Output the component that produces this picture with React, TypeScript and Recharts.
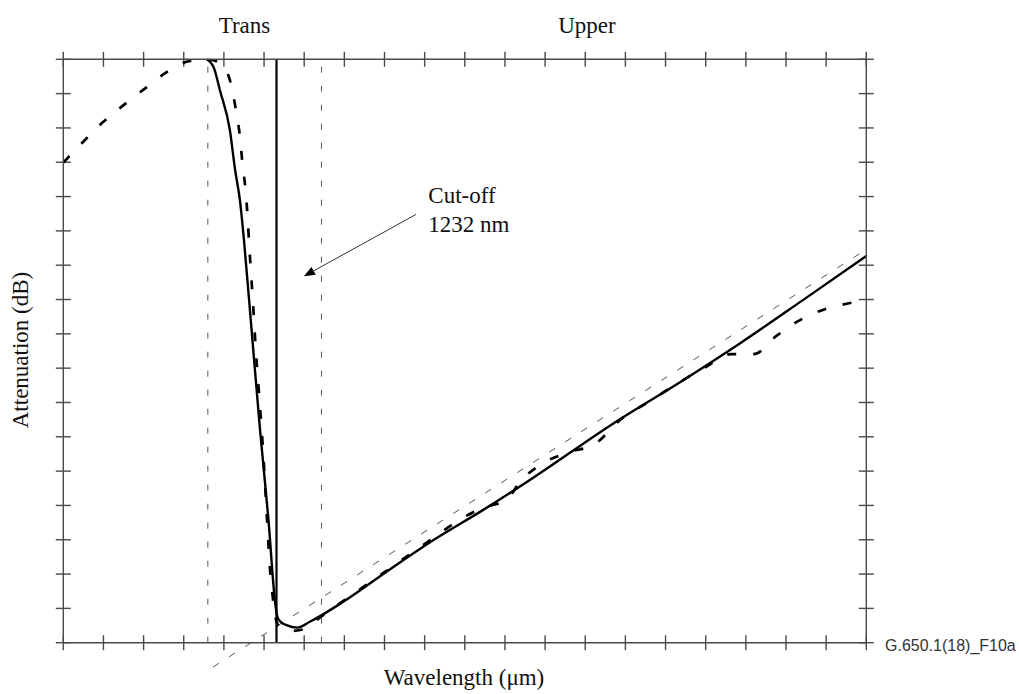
import { LineChart, Line, XAxis, YAxis, ReferenceLine } from "recharts";

// Wavelength in tick units (20 divisions), attenuation in tick units (17 divisions).
const xTicks = [0, 1, 2, 3, 4, 5, 6, 7, 8, 9, 10, 11, 12, 13, 14, 15, 16, 17, 18, 19, 20];
const yTicks = [0, 1, 2, 3, 4, 5, 6, 7, 8, 9, 10, 11, 12, 13, 14, 15, 16, 17];

// Solid measured curve
const solidX = [3.57, 3.75, 3.9, 4.15, 4.28, 4.4, 4.5, 4.69, 4.9, 5.11, 5.27, 5.33, 5.42, 5.56, 5.83, 6.14, 6.97, 8.14, 9.22, 10.46, 11.62, 13.7, 15.44, 16.85, 18.43, 20];
const solidY = [17, 16.75, 16.1, 14.93, 13.77, 12.89, 11.73, 9.11, 6.2, 3.58, 1.24, 0.76, 0.6, 0.51, 0.44, 0.61, 1.19, 2.14, 2.99, 3.87, 4.74, 6.39, 7.65, 8.72, 9.99, 11.27];

// Dashed measured curve
const dashX = [0, 0.54, 0.99, 1.54, 2.08, 2.61, 3.16, 3.65, 3.9, 4.15, 4.3, 4.4, 4.47, 4.54, 4.59, 4.63, 4.72, 4.8, 4.9, 4.99, 5.07, 5.15, 5.22, 5.3, 5.4, 5.65, 5.9, 6.48, 7.06, 8.14, 8.72, 9.26, 9.8, 10.42, 11.04, 11.37, 11.99, 12.62, 13.24, 13.86, 14.61, 15.36, 16.0, 16.63, 17.2, 17.73, 18.3, 18.9, 19.6, 20];
const dashY = [13.99, 14.65, 15.17, 15.7, 16.19, 16.65, 16.95, 16.98, 16.89, 16.39, 15.52, 14.74, 13.87, 13.19, 12.41, 11.59, 9.99, 8.43, 6.88, 5.32, 3.67, 2.12, 1.29, 0.66, 0.43, 0.34, 0.37, 0.81, 1.29, 2.17, 2.65, 3.09, 3.53, 3.92, 4.16, 4.68, 5.26, 5.56, 5.79, 6.48, 7.04, 7.6, 8.03, 8.41, 8.41, 8.91, 9.37, 9.69, 9.9, 9.99];

// Reference positions
const cutoffX = 5.31;
const transBounds = [3.6, 6.43];
const tangent = [
  { x: 3.73, y: -0.71 },
  { x: 20, y: 11.46 },
];
const arrow = [
  { x: 8.785, y: 12.48 },
  { x: 5.994, y: 10.68 },
];

const solid = solidX.map((x, i) => ({ x, y: solidY[i] }));
const dashed = dashX.map((x, i) => ({ x, y: dashY[i] }));

const X_MAX = xTicks[xTicks.length - 1];
const Y_MAX = yTicks[yTicks.length - 1];
// half tick length (~7.5px) expressed in each axis' units
const HX = 0.187;
const HY = 0.2185;

const AXIS = "#4a4a4a";
const SERIF = "'Liberation Serif', 'Times New Roman', serif";

const ArrowShape = (p: any) => {
  const { x1, y1, x2, y2 } = p;
  const dx = x2 - x1;
  const dy = y2 - y1;
  const len = Math.hypot(dx, dy) || 1;
  const ux = dx / len;
  const uy = dy / len;
  const bx = x2 - ux * 11;
  const by = y2 - uy * 11;
  const pts = `${x2},${y2} ${bx - uy * 4.5},${by + ux * 4.5} ${bx + uy * 4.5},${by - ux * 4.5}`;
  return (
    <g>
      <line x1={x1} y1={y1} x2={bx} y2={by} stroke="#333" strokeWidth={1} />
      <polygon points={pts} fill="#000" />
    </g>
  );
};

export default function App() {
  const axisLine = { stroke: AXIS, strokeWidth: 1.4 };
  const tickProps = { stroke: AXIS, strokeWidth: 1.4, ifOverflow: "visible" as const };
  return (
    <div style={{ position: "absolute", left: 0, top: 0, background: "#fff" }}>
      <LineChart
        width={1019}
        height={694}
        margin={{ top: 58.3, right: 151.7, bottom: 50.3, left: 62.3 }}
      >
        <XAxis
          dataKey="x"
          type="number"
          domain={[0, X_MAX]}
          ticks={xTicks}
          height={1}
          tick={false}
          tickLine={false}
          axisLine={axisLine}
        />
        <XAxis
          xAxisId="top"
          orientation="top"
          type="number"
          domain={[0, X_MAX]}
          allowDataOverflow
          height={1}
          tick={false}
          tickLine={false}
          axisLine={axisLine}
        />
        <YAxis
          type="number"
          domain={[0, Y_MAX]}
          ticks={yTicks}
          width={1}
          tick={false}
          tickLine={false}
          axisLine={axisLine}
        />
        <YAxis
          yAxisId="right"
          orientation="right"
          type="number"
          domain={[0, Y_MAX]}
          allowDataOverflow
          width={1}
          tick={false}
          tickLine={false}
          axisLine={axisLine}
        />

        {/* crossing tick marks on all four sides */}
        {xTicks.map((t) => (
          <ReferenceLine key={`b${t}`} segment={[{ x: t, y: -HY }, { x: t, y: HY }]} {...tickProps} />
        ))}
        {xTicks.map((t) => (
          <ReferenceLine key={`t${t}`} segment={[{ x: t, y: Y_MAX - HY }, { x: t, y: Y_MAX + HY }]} {...tickProps} />
        ))}
        {yTicks.map((t) => (
          <ReferenceLine key={`l${t}`} segment={[{ x: -HX, y: t }, { x: HX, y: t }]} {...tickProps} />
        ))}
        {yTicks.map((t) => (
          <ReferenceLine key={`r${t}`} segment={[{ x: X_MAX - HX, y: t }, { x: X_MAX + HX, y: t }]} {...tickProps} />
        ))}

        {transBounds.map((x) => (
          <ReferenceLine key={x} x={x} stroke="#555" strokeWidth={1} strokeDasharray="6 13" />
        ))}
        <ReferenceLine
          segment={tangent}
          ifOverflow="visible"
          stroke="#555"
          strokeWidth={1}
          strokeDasharray="7 12"
        />
        <ReferenceLine x={cutoffX} stroke="#000" strokeWidth={2.2} />

        <Line
          data={dashed}
          dataKey="y"
          type="monotone"
          stroke="#000"
          strokeWidth={2.7}
          strokeDasharray="9 17"
          dot={false}
          activeDot={false}
          isAnimationActive={false}
        />
        <Line
          data={solid}
          dataKey="y"
          type="monotone"
          stroke="#000"
          strokeWidth={2.4}
          dot={false}
          activeDot={false}
          isAnimationActive={false}
        />

        <ReferenceLine segment={arrow} shape={ArrowShape} />

        <text x={244.5} y={32.7} textAnchor="middle" fontFamily={SERIF} fontSize={23} fill="#111">
          Trans
        </text>
        <text x={587} y={32.7} textAnchor="middle" fontFamily={SERIF} fontSize={23} fill="#111">
          Upper
        </text>
        <text x={428.3} y={203.3} fontFamily={SERIF} fontSize={23} fill="#111">
          Cut-off
        </text>
        <text x={428.3} y={231.7} fontFamily={SERIF} fontSize={23} fill="#111">
          1232 nm
        </text>
        <text
          x={28}
          y={350}
          transform="rotate(-90 28 350)"
          textAnchor="middle"
          fontFamily={SERIF}
          fontSize={23}
          fill="#111"
        >
          Attenuation (dB)
        </text>
        <text x={464} y={685} textAnchor="middle" fontFamily={SERIF} fontSize={23} fill="#111">
          Wavelength (μm)
        </text>
        <text
          x={885}
          y={650.5}
          fontFamily="'Liberation Sans', Arial, sans-serif"
          fontSize={16}
          fill="#333"
        >
          G.650.1(18)_F10a
        </text>
      </LineChart>
    </div>
  );
}
